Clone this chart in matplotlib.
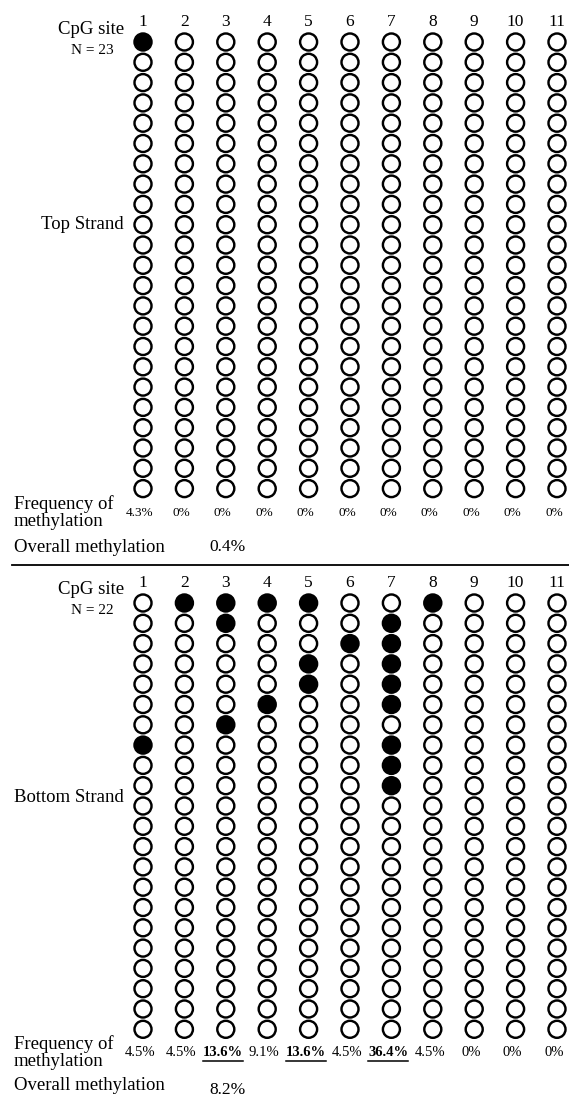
import numpy as np
import matplotlib
matplotlib.use('Agg')
import matplotlib.pyplot as plt

plt.rcParams['font.family'] = ['Liberation Serif', 'DejaVu Serif']

# CpG sites and clone counts
sites = list(range(1, 12))
top_n = 23
bottom_n = 22

# methylated clones (0-based row index) per CpG site
top_methylated = {1: [0]}
bottom_methylated = {
    1: [7],
    2: [0],
    3: [0, 1, 6],
    4: [0, 5],
    5: [0, 3, 4],
    6: [2],
    7: [1, 2, 3, 4, 5, 7, 8, 9],
    8: [0],
}

top_freq = ['4.3%', '0%', '0%', '0%', '0%', '0%', '0%', '0%', '0%', '0%', '0%']
bottom_freq = ['4.5%', '4.5%', '13.6%', '9.1%', '13.6%', '4.5%', '36.4%', '4.5%', '0%', '0%', '0%']
bottom_bold = [3, 5, 7]
top_overall = '0.4%'
bottom_overall = '8.2%'

# layout (pixels)
W, H = 569, 1097
x0, dx = 143, 41.4
dy = 20.3

fig = plt.figure(figsize=(W / 100, H / 100), dpi=100)
ax = fig.add_axes([0, 0, 1, 1])
ax.set_xlim(0, W)
ax.set_ylim(H, 0)
ax.axis('off')


def draw_panel(y0, n, methylated, freqs, bold, overall, n_label, strand, strand_row,
               head_y, freq_y, overall_y, overall_val_y, pct_size):
    xs, ys, fc = [], [], []
    for s in sites:
        for r in range(n):
            xs.append(x0 + (s - 1) * dx)
            ys.append(y0 + r * dy)
            fc.append('black' if r in methylated.get(s, []) else 'white')
    ax.scatter(xs, ys, s=150, facecolors=fc, edgecolors='black', linewidths=1.75, zorder=3)

    for s in sites:
        ax.text(x0 + (s - 1) * dx, head_y, str(s), ha='center', va='center', fontsize=12.5)
    ax.text(124, head_y + 7, 'CpG site', ha='right', va='center', fontsize=13.5)
    ax.text(92, head_y + 28, n_label, ha='center', va='center', fontsize=11)
    ax.text(124, y0 + strand_row * dy, strand, ha='right', va='center', fontsize=13.5)

    ax.text(14, freq_y - 9, 'Frequency of', ha='left', va='center', fontsize=13.5)
    ax.text(14, freq_y + 8, 'methylation', ha='left', va='center', fontsize=13.5)
    labels = []
    for s, f in zip(sites, freqs):
        t = ax.text(x0 + (s - 1) * dx - 3, freq_y, f, ha='center', va='center',
                    fontsize=pct_size, fontweight='bold' if s in bold else 'normal')
        if s in bold:
            labels.append(t)
    ax.text(14, overall_y, 'Overall methylation', ha='left', va='center', fontsize=13.5)
    ax.text(228, overall_val_y, overall, ha='center', va='center', fontsize=12.5)
    return labels


draw_panel(42, top_n, top_methylated, top_freq, [], top_overall, 'N = 23', 'Top Strand', 9,
           22, 513, 547, 547, 9.5)
ax.plot([12, W], [565, 565], color='black', lw=1.3)
under = draw_panel(603, bottom_n, bottom_methylated, bottom_freq, bottom_bold, bottom_overall,
                   'N = 22', 'Bottom Strand', 9.6, 583, 1053, 1085, 1090, 10.5)

# underline the highlighted frequencies
fig.canvas.draw()
inv = ax.transData.inverted()
for t in under:
    bb = t.get_window_extent()
    (xa, ya), (xb, yb) = inv.transform([[bb.x0, bb.y0], [bb.x1, bb.y0]])
    ax.plot([xa, xb], [ya + 1, yb + 1], color='black', lw=1.1)

fig.savefig('out.png', dpi=100, facecolor='white')
